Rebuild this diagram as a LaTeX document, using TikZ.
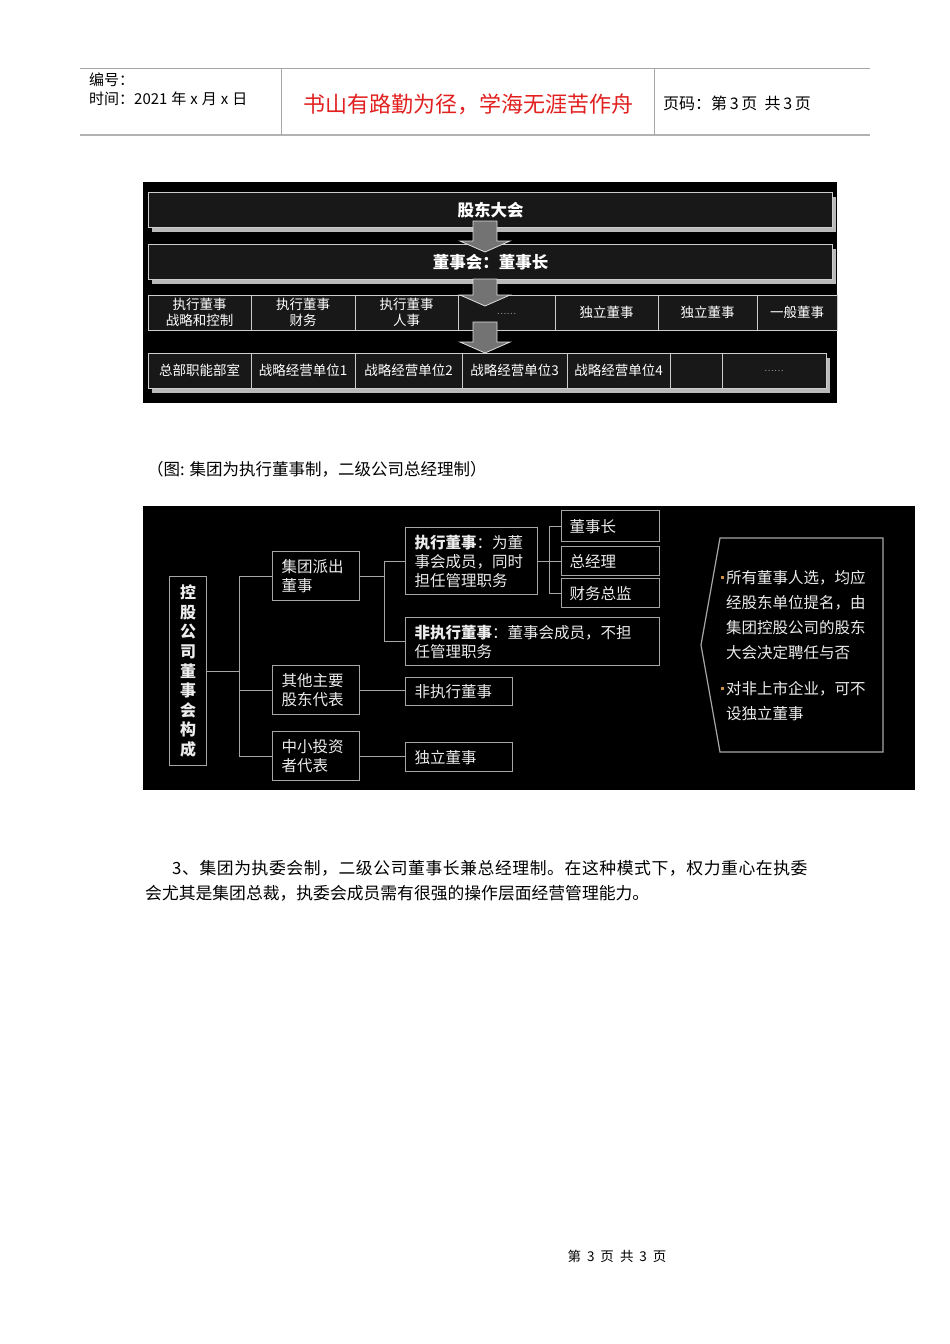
\documentclass[tikz,border=0pt]{standalone}
\usepackage{fontspec}
\setmainfont{Noto Sans CJK SC}
\newfontfamily\widecjk[LetterSpace=3.5]{Noto Sans CJK SC}
\usetikzlibrary{positioning,calc}

\definecolor{titlered}{RGB}{226,32,32}
\definecolor{cellgray}{RGB}{24,24,24}
\definecolor{linegray}{RGB}{205,205,205}
\definecolor{bulletorange}{RGB}{205,145,70}

\newcommand{\notebullet}{\textcolor{bulletorange}{\rule[4pt]{3.5pt}{3.5pt}}\hspace{2pt}}

\begin{document}
\begin{tikzpicture}[x=1pt,y=-1pt,every node/.style={inner sep=0pt},
    bar/.style={draw=linegray,line width=1.2pt,fill=cellgray,text=white,anchor=north west,minimum width=684,minimum height=35,font=\fontsize{16.5}{18}\selectfont\bfseries},
    cell/.style={draw=linegray,line width=1pt,fill=cellgray,text=white,anchor=north west,outer sep=0pt,minimum height=35,align=center,font=\fontsize{13.5}{16}\selectfont},
    shade/.style={fill=gray!55},
    bigarrow/.style={fill=black!55,draw=gray!25,line width=0.8pt},
    orgbox/.style={draw=gray!70,line width=1.3pt,anchor=north west,text=white!85!gray,align=left,inner xsep=9pt,font=\fontsize{15.5}{19}\selectfont},
    link/.style={draw=gray!70,line width=1.2pt},
    head/.style={anchor=west,font=\fontsize{15}{17}\selectfont}]

    \fill[white] (0,0) rectangle (950,1344);
    \useasboundingbox (0,0) rectangle (950,1344);

    % header
    \draw[gray!70,line width=1pt] (80,68) -- (870,68);
    \draw[gray!60,line width=2pt] (80,135) -- (870,135);
    \draw[gray!70,line width=1pt] (281,68) -- (281,135) (654,68) -- (654,135);
    \node (bh) [head] at (89,80) {编号：};
    \node (sj) [head] at (89,99) {时间：2021\hspace{4pt}年\hspace{4pt}x\hspace{4pt}月\hspace{4pt}x\hspace{4pt}日};
    \node (motto) [text=titlered,font=\fontsize{22}{24}\selectfont] at (468,104) {书山有路勤为径，学海无涯苦作舟};
    \node (ym) [head,font=\fontsize{16}{18}\selectfont] at (663,103) {页码：第\,3\,页\ \ 共\,3\,页};

    % first chart
    \fill[black] (143,182) rectangle (837,403);
    \fill[shade] (152,197) rectangle (836,232);
    \fill[shade] (152,249) rectangle (836,284);
    \fill[shade] (152,358) rectangle (830,393);

    \node (gd) [bar] at (148,192) {股东大会};
    \node (dsh) [bar] at (148,244) {董事会：董事长};

    \node (e1) [cell,minimum width=103] at (148,295) {执行董事\\战略和控制};
    \node (e2) [cell,minimum width=104,right=0pt of e1] {执行董事\\财务};
    \node (e3) [cell,minimum width=103,right=0pt of e2] {执行董事\\人事};
    \node (e4) [cell,minimum width=97,right=0pt of e3,font=\fontsize{9}{10}\selectfont,text=gray!80] {\raisebox{-5pt}{……}};
    \node (e5) [cell,minimum width=103,right=0pt of e4] {独立董事};
    \node (e6) [cell,minimum width=99,right=0pt of e5] {独立董事};
    \node (e7) [cell,minimum width=80,right=0pt of e6] {一般董事};

    \node (u1) [cell,minimum width=103] at (148,353) {总部职能部室};
    \node (u2) [cell,minimum width=104,right=0pt of u1] {战略经营单位1};
    \node (u3) [cell,minimum width=107,right=0pt of u2] {战略经营单位2};
    \node (u4) [cell,minimum width=105,right=0pt of u3] {战略经营单位3};
    \node (u5) [cell,minimum width=103,right=0pt of u4] {战略经营单位4};
    \node (u6) [cell,minimum width=52,right=0pt of u5] {};
    \node (u7) [cell,minimum width=104,right=0pt of u6,font=\fontsize{9}{10}\selectfont,text=gray!80] {……};

    \foreach \ya/\yb/\yc in {221/241/252, 279/295/306, 322/342/353}
        \draw[bigarrow] (473,\ya) -- (497,\ya) -- (497,\yb) -- (510,\yb) -- (485,\yc)
            -- (460,\yb) -- (473,\yb) -- cycle;

    \node (cap) [anchor=west,font=\fontsize{16.5}{18}\selectfont] at (147,469) {（图: 集团为执行董事制，二级公司总经理制）};

    % second chart
    \fill[black] (143,506) rectangle (915,790);

    \node (root) [draw=gray!70,line width=1.3pt,anchor=north west,minimum width=37,minimum height=189,align=center,text=white!85!gray,
        font=\fontsize{16}{19.6}\selectfont\bfseries] at (169,576) {控\\股\\公\\司\\董\\事\\会\\构\\成};

    \node (jt) [orgbox,text width=69,minimum height=49] at (272,551) {集团派出\\董事};
    \node (jq) [orgbox,text width=69,minimum height=49] at (272,665) {其他主要\\股东代表};
    \node (zxtz) [orgbox,text width=69,minimum height=49] at (272,731) {中小投资\\者代表};

    \node (zxds) [orgbox,text width=114,minimum height=67] at (405,527) {\textbf{执行董事}：为董\\事会成员，同时\\担任管理职务};
    \node (fzx) [orgbox,text width=236,minimum height=48] at (405,617) {\textbf{非执行董事}：董事会成员，不担\\任管理职务};
    \node (fzx2) [orgbox,text width=89,minimum height=28] at (405,677) {非执行董事};
    \node (dlds) [orgbox,text width=89,minimum height=29] at (405,742) {独立董事};

    \node (dsz) [orgbox,inner xsep=8pt,text width=82,minimum height=31] at (561,510) {董事长};
    \node (zjl) [orgbox,inner xsep=8pt,text width=82,minimum height=29] at (561,546) {总经理};
    \node (cwzj) [orgbox,inner xsep=8pt,text width=82,minimum height=29] at (561,578) {财务总监};

    \draw[link] (root.east) -- ++(32,0) coordinate (t1);
    \draw[link] (jt.west) -| (t1) (jq.west) -| (t1) (zxtz.west) -| (t1);
    \draw[link] (jt.east) -- ++(24,0) coordinate (t2);
    \draw[link] (zxds.west) -| (t2) (fzx.west) -| (t2);
    \draw[link] (zxds.east) -- ++(11,0) coordinate (t3);
    \draw[link] (dsz.west) -| (t3) (zjl.west) -| (t3) (cwzj.west) -| (t3);
    \draw[link] (jq.east) -- (jq.east -| fzx2.west);
    \draw[link] (zxtz.east) -- (zxtz.east -| dlds.west);

    \draw[link] (720,538) -- (883,538) -- (883,752) -- (720,752) -- (701,645) -- cycle;
    \node (note) [anchor=north west,align=left,text=white!85!gray,font=\fontsize{15.5}{25}\selectfont] at (726,570)
        {\llap{\notebullet}所有董事人选，均应\\经股东单位提名，由\\集团控股公司的股东\\大会决定聘任与否\\[11pt]
         \llap{\notebullet}对非上市企业，可不\\设独立董事};

    % text below
    \node (p1) [anchor=west,font=\widecjk\fontsize{16.8}{18}\selectfont] at (172,868)
        {3、集团为执委会制，二级公司董事长兼总经理制。在这种模式下，权力重心在执委};
    \node (p2) [anchor=west,font=\fontsize{16.8}{18}\selectfont] at (145,893)
        {会尤其是集团总裁，执委会成员需有很强的操作层面经营管理能力。};

    \node (ft) [font=\fontsize{13.5}{15}\selectfont] at (617,1256) {第\hspace{6pt}3\hspace{6pt}页\hspace{6pt}共\hspace{6pt}3\hspace{6pt}页};
\end{tikzpicture}
\end{document}
